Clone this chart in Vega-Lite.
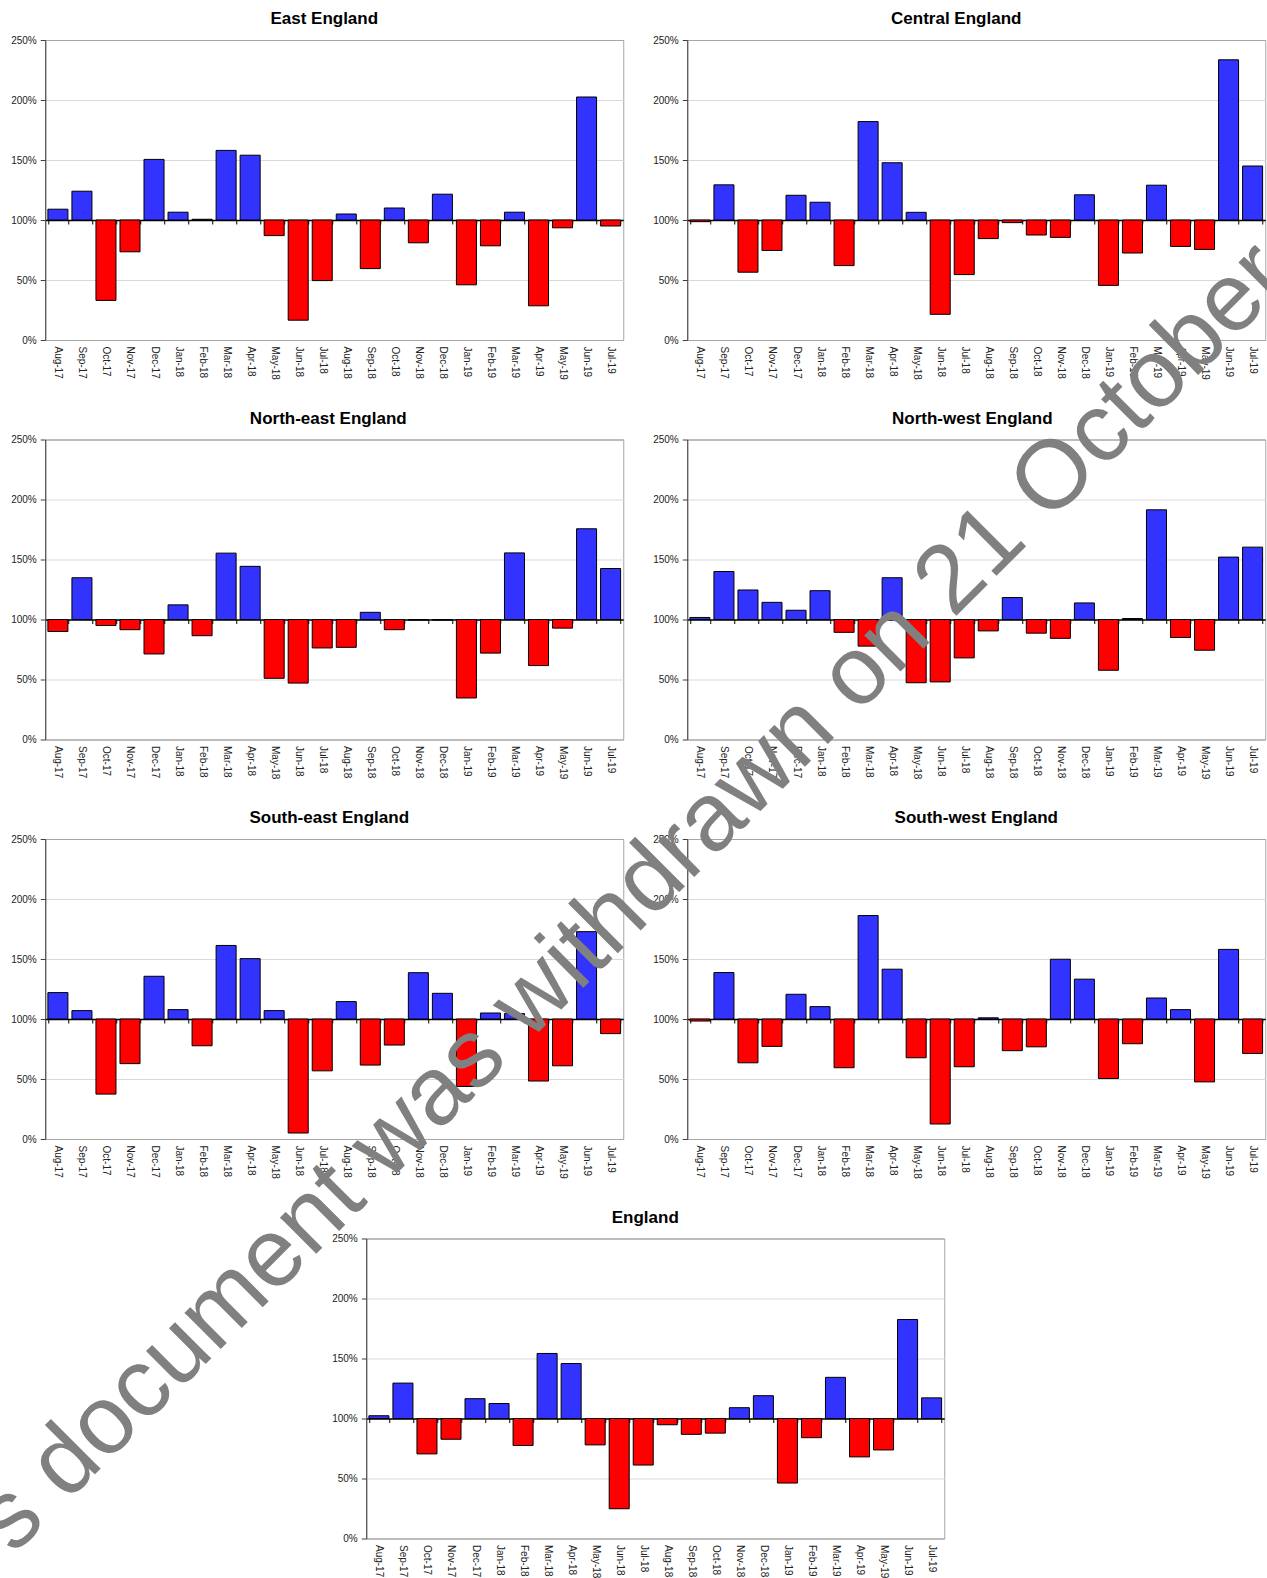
{
  "$schema": "https://vega.github.io/schema/vega-lite/v6.json",
  "padding": {"left": -42, "top": 9, "right": 0, "bottom": 0},
  "autosize": {"type": "pad"},
  "background": "white",
  "title": {"text": "s document was withdrawn on 21 October", "orient": "bottom", "anchor": "middle", "angle": -44.9, "fontSize": 97, "font": "Liberation Sans", "fontWeight": "normal", "color": "#808080", "baseline": "alphabetic", "offset": 0, "dx": 477, "dy": -457},
  "data": {"values": [
    {"r":"E","m":"Aug-17","v":109},{"r":"E","m":"Sep-17","v":124},{"r":"E","m":"Oct-17","v":33},{"r":"E","m":"Nov-17","v":73.5},{"r":"E","m":"Dec-17","v":150.5},{"r":"E","m":"Jan-18","v":106.5},{"r":"E","m":"Feb-18","v":100.6},{"r":"E","m":"Mar-18","v":158},{"r":"E","m":"Apr-18","v":154},{"r":"E","m":"May-18","v":87},{"r":"E","m":"Jun-18","v":16.5},{"r":"E","m":"Jul-18","v":49.5},{"r":"E","m":"Aug-18","v":105},{"r":"E","m":"Sep-18","v":59.5},{"r":"E","m":"Oct-18","v":110},{"r":"E","m":"Nov-18","v":81},{"r":"E","m":"Dec-18","v":121.5},{"r":"E","m":"Jan-19","v":46},{"r":"E","m":"Feb-19","v":78.5},{"r":"E","m":"Mar-19","v":106.5},{"r":"E","m":"Apr-19","v":28.5},{"r":"E","m":"May-19","v":93.5},{"r":"E","m":"Jun-19","v":202.5},{"r":"E","m":"Jul-19","v":95},
    {"r":"C","m":"Aug-17","v":98.6},{"r":"C","m":"Sep-17","v":129.3},{"r":"C","m":"Oct-17","v":56.5},{"r":"C","m":"Nov-17","v":74.6},{"r":"C","m":"Dec-17","v":120.6},{"r":"C","m":"Jan-18","v":114.8},{"r":"C","m":"Feb-18","v":62},{"r":"C","m":"Mar-18","v":182},{"r":"C","m":"Apr-18","v":147.7},{"r":"C","m":"May-18","v":106.4},{"r":"C","m":"Jun-18","v":21.4},{"r":"C","m":"Jul-18","v":54.5},{"r":"C","m":"Aug-18","v":84.5},{"r":"C","m":"Sep-18","v":97.8},{"r":"C","m":"Oct-18","v":87.5},{"r":"C","m":"Nov-18","v":85.5},{"r":"C","m":"Dec-18","v":121},{"r":"C","m":"Jan-19","v":45.5},{"r":"C","m":"Feb-19","v":72.5},{"r":"C","m":"Mar-19","v":129},{"r":"C","m":"Apr-19","v":78},{"r":"C","m":"May-19","v":75.5},{"r":"C","m":"Jun-19","v":233.5},{"r":"C","m":"Jul-19","v":145},
    {"r":"NE","m":"Aug-17","v":90},{"r":"NE","m":"Sep-17","v":134.8},{"r":"NE","m":"Oct-17","v":95},{"r":"NE","m":"Nov-17","v":91.5},{"r":"NE","m":"Dec-17","v":71.3},{"r":"NE","m":"Jan-18","v":112.2},{"r":"NE","m":"Feb-18","v":86.5},{"r":"NE","m":"Mar-18","v":155.3},{"r":"NE","m":"Apr-18","v":144.3},{"r":"NE","m":"May-18","v":51},{"r":"NE","m":"Jun-18","v":47},{"r":"NE","m":"Jul-18","v":76.3},{"r":"NE","m":"Aug-18","v":76.8},{"r":"NE","m":"Sep-18","v":106},{"r":"NE","m":"Oct-18","v":91.5},{"r":"NE","m":"Nov-18","v":99.5},{"r":"NE","m":"Dec-18","v":99.5},{"r":"NE","m":"Jan-19","v":34.6},{"r":"NE","m":"Feb-19","v":72},{"r":"NE","m":"Mar-19","v":155.5},{"r":"NE","m":"Apr-19","v":61.6},{"r":"NE","m":"May-19","v":92.8},{"r":"NE","m":"Jun-19","v":175.6},{"r":"NE","m":"Jul-19","v":142.5},
    {"r":"NW","m":"Aug-17","v":101.7},{"r":"NW","m":"Sep-17","v":140},{"r":"NW","m":"Oct-17","v":124.6},{"r":"NW","m":"Nov-17","v":114.3},{"r":"NW","m":"Dec-17","v":107.7},{"r":"NW","m":"Jan-18","v":124},{"r":"NW","m":"Feb-18","v":89.3},{"r":"NW","m":"Mar-18","v":77.8},{"r":"NW","m":"Apr-18","v":134.8},{"r":"NW","m":"May-18","v":47.3},{"r":"NW","m":"Jun-18","v":48},{"r":"NW","m":"Jul-18","v":68},{"r":"NW","m":"Aug-18","v":90.5},{"r":"NW","m":"Sep-18","v":118.3},{"r":"NW","m":"Oct-18","v":88.6},{"r":"NW","m":"Nov-18","v":84.3},{"r":"NW","m":"Dec-18","v":113.8},{"r":"NW","m":"Jan-19","v":57.7},{"r":"NW","m":"Feb-19","v":100.8},{"r":"NW","m":"Mar-19","v":191.4},{"r":"NW","m":"Apr-19","v":85},{"r":"NW","m":"May-19","v":74.4},{"r":"NW","m":"Jun-19","v":152},{"r":"NW","m":"Jul-19","v":160.3},
    {"r":"SE","m":"Aug-17","v":122},{"r":"SE","m":"Sep-17","v":107},{"r":"SE","m":"Oct-17","v":37.4},{"r":"SE","m":"Nov-17","v":62.8},{"r":"SE","m":"Dec-17","v":135.6},{"r":"SE","m":"Jan-18","v":107.8},{"r":"SE","m":"Feb-18","v":77.7},{"r":"SE","m":"Mar-18","v":161.3},{"r":"SE","m":"Apr-18","v":150.3},{"r":"SE","m":"May-18","v":107},{"r":"SE","m":"Jun-18","v":5},{"r":"SE","m":"Jul-18","v":56.8},{"r":"SE","m":"Aug-18","v":114.5},{"r":"SE","m":"Sep-18","v":61.6},{"r":"SE","m":"Oct-18","v":78.3},{"r":"SE","m":"Nov-18","v":138.6},{"r":"SE","m":"Dec-18","v":121.4},{"r":"SE","m":"Jan-19","v":43.8},{"r":"SE","m":"Feb-19","v":105},{"r":"SE","m":"Mar-19","v":104.5},{"r":"SE","m":"Apr-19","v":48.3},{"r":"SE","m":"May-19","v":61},{"r":"SE","m":"Jun-19","v":172.8},{"r":"SE","m":"Jul-19","v":87.8},
    {"r":"SW","m":"Aug-17","v":98.3},{"r":"SW","m":"Sep-17","v":138.7},{"r":"SW","m":"Oct-17","v":63.5},{"r":"SW","m":"Nov-17","v":77.2},{"r":"SW","m":"Dec-17","v":120.6},{"r":"SW","m":"Jan-18","v":110.3},{"r":"SW","m":"Feb-18","v":59.4},{"r":"SW","m":"Mar-18","v":186.2},{"r":"SW","m":"Apr-18","v":141.5},{"r":"SW","m":"May-18","v":67.7},{"r":"SW","m":"Jun-18","v":12.5},{"r":"SW","m":"Jul-18","v":60.2},{"r":"SW","m":"Aug-18","v":101},{"r":"SW","m":"Sep-18","v":73.6},{"r":"SW","m":"Oct-18","v":76.8},{"r":"SW","m":"Nov-18","v":149.8},{"r":"SW","m":"Dec-18","v":133.2},{"r":"SW","m":"Jan-19","v":50.4},{"r":"SW","m":"Feb-19","v":79.4},{"r":"SW","m":"Mar-19","v":117.5},{"r":"SW","m":"Apr-19","v":107.8},{"r":"SW","m":"May-19","v":47.6},{"r":"SW","m":"Jun-19","v":158},{"r":"SW","m":"Jul-19","v":71.3},
    {"r":"EN","m":"Aug-17","v":102.3},{"r":"EN","m":"Sep-17","v":129.5},{"r":"EN","m":"Oct-17","v":70.5},{"r":"EN","m":"Nov-17","v":82.7},{"r":"EN","m":"Dec-17","v":116.5},{"r":"EN","m":"Jan-18","v":112.5},{"r":"EN","m":"Feb-18","v":77.5},{"r":"EN","m":"Mar-18","v":154.2},{"r":"EN","m":"Apr-18","v":145.8},{"r":"EN","m":"May-18","v":78},{"r":"EN","m":"Jun-18","v":24.8},{"r":"EN","m":"Jul-18","v":61.2},{"r":"EN","m":"Aug-18","v":94.8},{"r":"EN","m":"Sep-18","v":86.8},{"r":"EN","m":"Oct-18","v":87.8},{"r":"EN","m":"Nov-18","v":109},{"r":"EN","m":"Dec-18","v":119},{"r":"EN","m":"Jan-19","v":46.2},{"r":"EN","m":"Feb-19","v":84},{"r":"EN","m":"Mar-19","v":134.3},{"r":"EN","m":"Apr-19","v":68},{"r":"EN","m":"May-19","v":73.8},{"r":"EN","m":"Jun-19","v":182.5},{"r":"EN","m":"Jul-19","v":117.2}
  ]},
  "spacing": 28.5,
  "center": true,
  "vconcat": [
    {"spacing": 27, "hconcat": [
      {"title": {"text": "East England", "dx": -10}, "width": 578, "height": 300, "transform": [{"filter": "datum.r == 'E'"}],
       "mark": {"type": "bar", "stroke": "#000", "strokeWidth": 1},
       "encoding": {"x": {"field": "m", "type": "nominal", "sort": null, "title": null}, "y": {"field": "v", "type": "quantitative", "title": null, "scale": {"domain": [0, 250], "nice": false}, "axis": {"values": [0, 50, 100, 150, 200, 250], "labelExpr": "datum.value + '%'", "gridColor": {"condition": {"test": "datum.value == 0 || datum.value == 250", "value": "#a6a6a6"}, "value": "#d9d9d9"}}}, "y2": {"datum": 100}, "color": {"condition": {"test": "datum.v >= 100", "value": "#3333ff"}, "value": "#ff0000"}}},
      {"title": {"text": "Central England", "dx": -20}, "width": 578, "height": 300, "transform": [{"filter": "datum.r == 'C'"}],
       "mark": {"type": "bar", "stroke": "#000", "strokeWidth": 1},
       "encoding": {"x": {"field": "m", "type": "nominal", "sort": null, "title": null}, "y": {"field": "v", "type": "quantitative", "title": null, "scale": {"domain": [0, 250], "nice": false}, "axis": {"values": [0, 50, 100, 150, 200, 250], "labelExpr": "datum.value + '%'", "gridColor": {"condition": {"test": "datum.value == 0 || datum.value == 250", "value": "#a6a6a6"}, "value": "#d9d9d9"}}}, "y2": {"datum": 100}, "color": {"condition": {"test": "datum.v >= 100", "value": "#3333ff"}, "value": "#ff0000"}}}
    ]},
    {"spacing": 27, "hconcat": [
      {"title": {"text": "North-east England", "dx": -6}, "width": 578, "height": 300, "transform": [{"filter": "datum.r == 'NE'"}],
       "mark": {"type": "bar", "stroke": "#000", "strokeWidth": 1},
       "encoding": {"x": {"field": "m", "type": "nominal", "sort": null, "title": null}, "y": {"field": "v", "type": "quantitative", "title": null, "scale": {"domain": [0, 250], "nice": false}, "axis": {"values": [0, 50, 100, 150, 200, 250], "labelExpr": "datum.value + '%'", "gridColor": {"condition": {"test": "datum.value == 0 || datum.value == 250", "value": "#a6a6a6"}, "value": "#d9d9d9"}}}, "y2": {"datum": 100}, "color": {"condition": {"test": "datum.v >= 100", "value": "#3333ff"}, "value": "#ff0000"}}},
      {"title": {"text": "North-west England", "dx": -4}, "width": 578, "height": 300, "transform": [{"filter": "datum.r == 'NW'"}],
       "mark": {"type": "bar", "stroke": "#000", "strokeWidth": 1},
       "encoding": {"x": {"field": "m", "type": "nominal", "sort": null, "title": null}, "y": {"field": "v", "type": "quantitative", "title": null, "scale": {"domain": [0, 250], "nice": false}, "axis": {"values": [0, 50, 100, 150, 200, 250], "labelExpr": "datum.value + '%'", "gridColor": {"condition": {"test": "datum.value == 0 || datum.value == 250", "value": "#a6a6a6"}, "value": "#d9d9d9"}}}, "y2": {"datum": 100}, "color": {"condition": {"test": "datum.v >= 100", "value": "#3333ff"}, "value": "#ff0000"}}}
    ]},
    {"spacing": 27, "hconcat": [
      {"title": {"text": "South-east England", "dx": -5}, "width": 578, "height": 300, "transform": [{"filter": "datum.r == 'SE'"}],
       "mark": {"type": "bar", "stroke": "#000", "strokeWidth": 1},
       "encoding": {"x": {"field": "m", "type": "nominal", "sort": null, "title": null}, "y": {"field": "v", "type": "quantitative", "title": null, "scale": {"domain": [0, 250], "nice": false}, "axis": {"values": [0, 50, 100, 150, 200, 250], "labelExpr": "datum.value + '%'", "gridColor": {"condition": {"test": "datum.value == 0 || datum.value == 250", "value": "#a6a6a6"}, "value": "#d9d9d9"}}}, "y2": {"datum": 100}, "color": {"condition": {"test": "datum.v >= 100", "value": "#3333ff"}, "value": "#ff0000"}}},
      {"title": {"text": "South-west England", "dx": 0}, "width": 578, "height": 300, "transform": [{"filter": "datum.r == 'SW'"}],
       "mark": {"type": "bar", "stroke": "#000", "strokeWidth": 1},
       "encoding": {"x": {"field": "m", "type": "nominal", "sort": null, "title": null}, "y": {"field": "v", "type": "quantitative", "title": null, "scale": {"domain": [0, 250], "nice": false}, "axis": {"values": [0, 50, 100, 150, 200, 250], "labelExpr": "datum.value + '%'", "gridColor": {"condition": {"test": "datum.value == 0 || datum.value == 250", "value": "#a6a6a6"}, "value": "#d9d9d9"}}}, "y2": {"datum": 100}, "color": {"condition": {"test": "datum.v >= 100", "value": "#3333ff"}, "value": "#ff0000"}}}
    ]},
    {"title": {"text": "England", "dx": -10}, "width": 578, "height": 300, "transform": [{"filter": "datum.r == 'EN'"}],
     "mark": {"type": "bar", "stroke": "#000", "strokeWidth": 1},
     "encoding": {"x": {"field": "m", "type": "nominal", "sort": null, "title": null}, "y": {"field": "v", "type": "quantitative", "title": null, "scale": {"domain": [0, 250], "nice": false}, "axis": {"values": [0, 50, 100, 150, 200, 250], "labelExpr": "datum.value + '%'", "gridColor": {"condition": {"test": "datum.value == 0 || datum.value == 250", "value": "#a6a6a6"}, "value": "#d9d9d9"}}}, "y2": {"datum": 100}, "color": {"condition": {"test": "datum.v >= 100", "value": "#3333ff"}, "value": "#ff0000"}}}
  ],
  "config": {
    "font": "Liberation Sans",
    "view": {"stroke": "#a6a6a6", "strokeWidth": 1},
    "title": {"fontSize": 17, "fontWeight": "bold", "color": "#000000", "offset": 7, "baseline": "alphabetic", "anchor": "middle"},
    "scale": {"bandPaddingInner": 0.167, "bandPaddingOuter": 0.11},
    "axisX": {"labelAngle": 90, "offset": -120, "labelPadding": 122, "tickBand": "extent", "tickSize": 4, "tickColor": "#000000", "domainColor": "#000000", "domainWidth": 1.5, "zindex": 1, "labelFontSize": 10, "labelColor": "#222222", "grid": false},
    "axisY": {"domainColor": "#404040", "tickColor": "#404040", "tickSize": 5, "labelPadding": 4, "labelFontSize": 10, "labelColor": "#222222", "grid": true}
  }
}
